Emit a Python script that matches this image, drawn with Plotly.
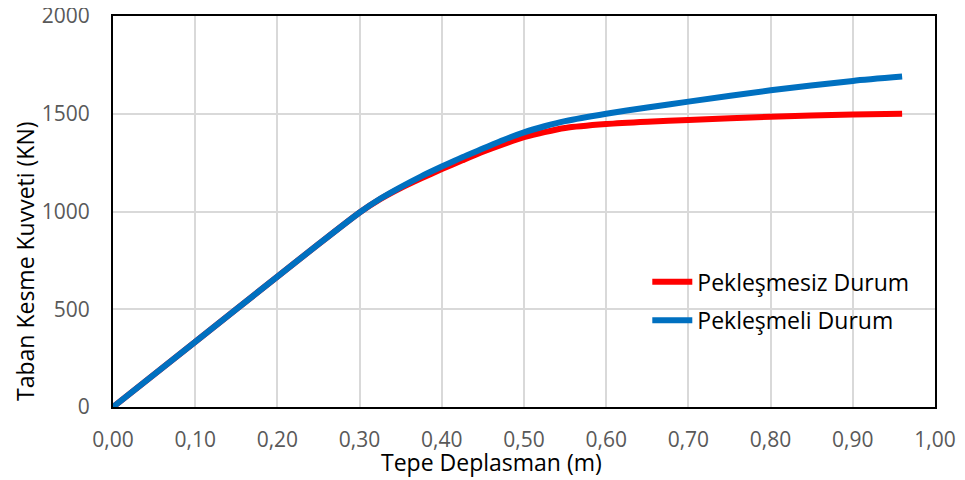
import plotly.graph_objects as go

# Data
deplasman = [0.00, 0.10, 0.20, 0.25, 0.30, 0.325, 0.35, 0.375, 0.40, 0.425, 0.45, 0.475, 0.50, 0.525, 0.55, 0.60, 0.65, 0.70, 0.80, 0.90, 0.96]
peklesmesiz = [0, 333, 667, 833, 995, 1063, 1120, 1170, 1217, 1262, 1306, 1345, 1380, 1406, 1427, 1447, 1459, 1468, 1485, 1496, 1500]
peklesmeli = [0, 333, 667, 833, 995, 1065, 1125, 1180, 1230, 1278, 1322, 1366, 1405, 1436, 1462, 1500, 1532, 1562, 1620, 1668, 1690]

x_ticks = [0.0, 0.1, 0.2, 0.3, 0.4, 0.5, 0.6, 0.7, 0.8, 0.9, 1.0]
x_tick_labels = ["0,00", "0,10", "0,20", "0,30", "0,40", "0,50", "0,60", "0,70", "0,80", "0,90", "1,00"]
y_ticks = [0, 500, 1000, 1500, 2000]

FONT = "Open Sans"
TICK_COLOR = "#595959"

fig = go.Figure()
fig.add_trace(go.Scatter(x=deplasman, y=peklesmesiz, mode="lines", name="Pekleşmesiz Durum",
                         legend="legend",
                         line=dict(color="#FF0000", width=6, shape="spline", smoothing=0.6)))
fig.add_trace(go.Scatter(x=deplasman, y=peklesmeli, mode="lines", name="Pekleşmeli Durum",
                         legend="legend2",
                         line=dict(color="#0070C0", width=6, shape="spline", smoothing=0.6)))

legend_common = dict(xanchor="left", yanchor="top", bgcolor="rgba(0,0,0,0)",
                     font=dict(family=FONT, size=23, color="black"), itemwidth=40)

# The page body adds an 8px offset, so margins are reduced by 8px at left/top.
fig.update_layout(
    width=965, height=480,
    margin=dict(l=105, r=38, t=8, b=81, autoexpand=False),
    paper_bgcolor="white", plot_bgcolor="white",
    font=dict(family=FONT, size=21, color=TICK_COLOR),
    showlegend=True,
    legend=dict(x=0.650, y=0.375, **legend_common),
    legend2=dict(x=0.650, y=0.277, **legend_common),
    xaxis=dict(range=[0, 1.0], tickvals=x_ticks, ticktext=x_tick_labels, automargin=False,
               showgrid=True, gridcolor="#D9D9D9", gridwidth=1.5,
               showline=True, linecolor="black", linewidth=2, mirror=True,
               ticks="", ticklabelstandoff=13, zeroline=False, ticklabeloverflow="allow",
               tickfont=dict(family=FONT, size=21, color=TICK_COLOR)),
    yaxis=dict(range=[0, 2000], tickvals=y_ticks, automargin=False,
               showgrid=True, gridcolor="#D9D9D9", gridwidth=1.5,
               showline=True, linecolor="black", linewidth=2, mirror=True,
               ticks="", ticklabelstandoff=17, zeroline=False, ticklabeloverflow="allow",
               tickfont=dict(family=FONT, size=21, color=TICK_COLOR)),
)

fig.add_annotation(text="Tepe Deplasman (m)", xref="paper", yref="paper",
                   x=(491 - 113) / 822, y=-(462 - 407) / 391, xanchor="center", yanchor="middle",
                   showarrow=False, font=dict(family=FONT, size=23, color="black"))
fig.add_annotation(text="Taban Kesme Kuvveti (KN)", xref="paper", yref="paper",
                   x=-(113 - 25) / 822, y=(407 - 261) / 391, xanchor="center", yanchor="middle",
                   textangle=-90, showarrow=False, font=dict(family=FONT, size=23, color="black"))

fig.write_html("out.html")
